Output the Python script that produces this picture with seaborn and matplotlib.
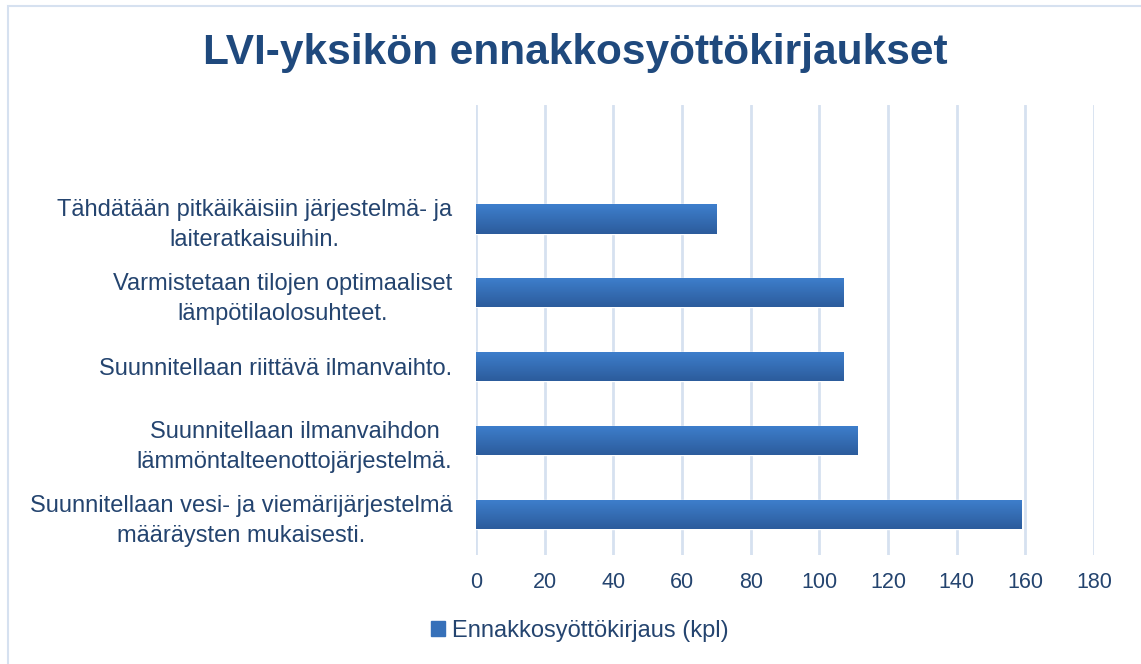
import matplotlib
matplotlib.use("Agg")
import matplotlib.pyplot as plt
from matplotlib.patches import Rectangle, Patch
from matplotlib.colors import LinearSegmentedColormap
import numpy as np
import seaborn as sns
import pandas as pd

categories = [
    "Tähdätään pitkäikäisiin järjestelmä- ja\nlaiteratkaisuihin.",
    "Varmistetaan tilojen optimaaliset\nlämpötilaolosuhteet.",
    "Suunnitellaan riittävä ilmanvaihto.",
    "Suunnitellaan ilmanvaihdon\nlämmöntalteenottojärjestelmä.",
    "Suunnitellaan vesi- ja viemärijärjestelmä\nmääräysten mukaisesti.",
]
values = [70, 107, 107, 111, 159]
series_name = "Ennakkosyöttökirjaus (kpl)"
xticks = [0, 20, 40, 60, 80, 100, 120, 140, 160, 180]

df = pd.DataFrame({"kategoria": categories, "arvo": values})

sns.set_theme(style="white")
plt.rcParams["font.family"] = ["Liberation Sans", "DejaVu Sans"]

text_col = "#24446f"
bar_col = "#3670b9"
grid_col = "#d6e1f0"
grad = LinearSegmentedColormap.from_list("bar", ["#3e7fcd", "#2c5c9c"])

fig = plt.figure(figsize=(11.41, 6.64), dpi=100)
ax = fig.add_axes([476 / 1141, 1 - 555 / 664, (1094 - 476) / 1141, (555 - 105) / 664])

sns.barplot(data=df, x="arvo", y="kategoria", orient="h", color=bar_col,
            width=0.4, saturation=1, ax=ax, zorder=3)

ax.set_xlim(0, 180)
ax.set_ylim(4.55, -1.54)

# vertical gradient inside each bar
for bar in ax.patches:
    x0, y0 = bar.get_x(), bar.get_y()
    w, h = bar.get_width(), bar.get_height()
    img = ax.imshow(np.linspace(0, 1, 64).reshape(-1, 1), cmap=grad, aspect="auto",
                    extent=(x0, x0 + w, y0 + h, y0), origin="upper", zorder=4)
    img.set_clip_path(bar)
ax.set_xlim(0, 180)
ax.set_ylim(4.55, -1.54)

ax.set_xticks(xticks)
ax.set_xticklabels([str(t) for t in xticks], fontsize=15.5, color=text_col)
ax.tick_params(axis="x", length=0, pad=12)
ax.tick_params(axis="y", length=0, pad=17)
for lab in ax.get_yticklabels():
    lab.set_fontsize(17)
    lab.set_color(text_col)
    lab.set_horizontalalignment("right")
    lab.set_multialignment("center")
    lab.set_linespacing(1.45)
ax.set_xlabel("")
ax.set_ylabel("")
ax.grid(axis="x", color=grid_col, linewidth=2, zorder=0)
for s in ax.spines.values():
    s.set_visible(False)

fig.text(575 / 1141, 1 - 53 / 664, "LVI-yksikön ennakkosyöttökirjaukset",
         ha="center", va="center", fontsize=30.5, fontweight="bold", color="#1f497d")

fig.legend(handles=[Patch(color=bar_col)], labels=[series_name],
           loc="center", bbox_to_anchor=(580 / 1141, 1 - 631 / 664),
           frameon=False, fontsize=17, labelcolor=text_col,
           handlelength=0.6, handleheight=0.6, handletextpad=0.3)

fig.add_artist(Rectangle((8 / 1141, -0.01), 1.0, 1 - 6 / 664 + 0.01,
                         transform=fig.transFigure, fill=False,
                         edgecolor="#d6e1f0", linewidth=1.5))

fig.savefig("out.png", dpi=100)
